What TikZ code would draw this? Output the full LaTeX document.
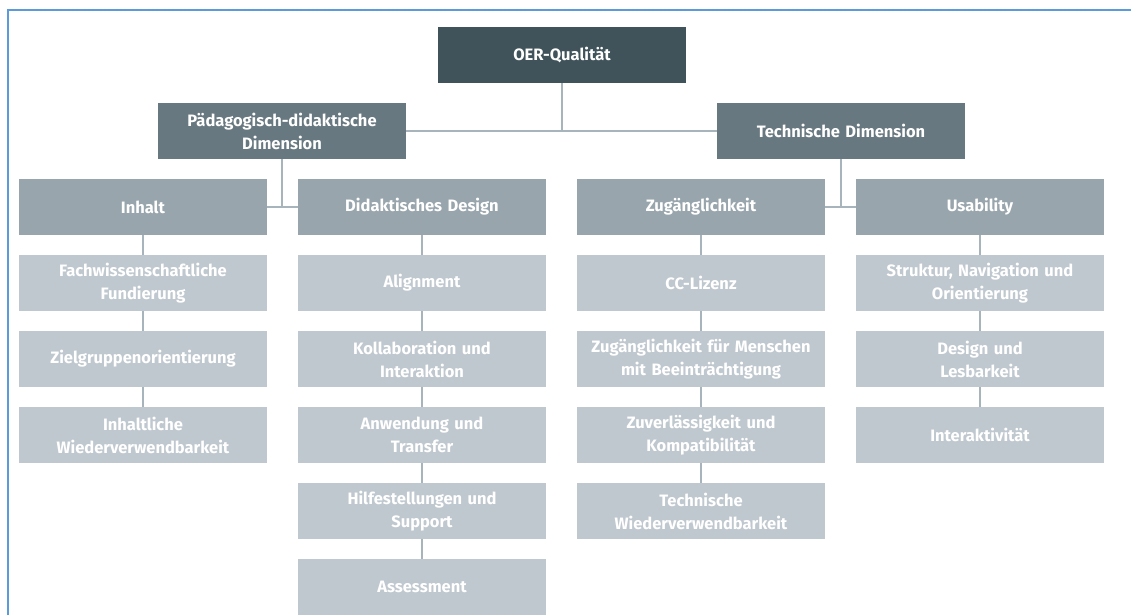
\documentclass[tikz,border=0pt]{standalone}
\usepackage{fontspec}
\setmainfont{Fira Sans}
\usepackage{tikz}
\usetikzlibrary{positioning}
\definecolor{frameblue}{RGB}{91,155,218}
\definecolor{toplevel}{RGB}{64,82,90}
\definecolor{dimlevel}{RGB}{104,120,128}
\definecolor{arealevel}{RGB}{152,165,172}
\definecolor{itemlevel}{RGB}{192,200,207}
\definecolor{linkgray}{RGB}{168,180,188}

\begin{document}
\begin{tikzpicture}[
  x=1pt, y=-1pt,
  node distance=20pt and 31pt,
  box/.style={rectangle, minimum width=248pt, minimum height=56pt, text width=240pt,
    align=center, inner sep=0pt, outer sep=0pt, text=white,
    font=\fontsize{16.5}{23}\selectfont\bfseries},
  toplevelbox/.style={box, fill=toplevel},
  dimbox/.style={box, fill=dimlevel},
  areabox/.style={box, fill=arealevel},
  itembox/.style={box, fill=itemlevel},
  link/.style={draw=linkgray, line width=2pt},
  frameline/.style={draw=frameblue, line width=2pt}
]
\useasboundingbox (0,0) rectangle (1131,614);
\draw[frameline] (8,650) -- (8,10) -- (1160,10);

% top and dimensions
\node[toplevelbox] (oer) at (562,55) {OER-Qualität};
\node[dimbox] (paed) at (282,131) {Pädagogisch-didaktische\\Dimension};
\node[dimbox] (tech) at (841,131) {Technische Dimension};

% areas
\node[areabox] (inhalt) at (143,207) {Inhalt};
\node[areabox, right=of inhalt] (design) {Didaktisches Design};
\node[areabox] (zugang) at (701,207) {Zugänglichkeit};
\node[areabox, right=of zugang] (usab) {Usability};

% Inhalt
\node[itembox, below=of inhalt] (fach) {Fachwissenschaftliche\\Fundierung};
\node[itembox, below=of fach] (ziel) {Zielgruppenorientierung};
\node[itembox, below=of ziel] (inhwv) {Inhaltliche\\Wiederverwendbarkeit};

% Didaktisches Design
\node[itembox, below=of design] (align) {Alignment};
\node[itembox, below=of align] (kolla) {Kollaboration und\\Interaktion};
\node[itembox, below=of kolla] (anw) {Anwendung und\\Transfer};
\node[itembox, below=of anw] (hilfe) {Hilfestellungen und\\Support};
\node[itembox, below=of hilfe] (assess) {Assessment};

% Zugänglichkeit
\node[itembox, below=of zugang] (cc) {CC-Lizenz};
\node[itembox, below=of cc] (barr) {Zugänglichkeit für Menschen\\mit Beeinträchtigung};
\node[itembox, below=of barr] (zuv) {Zuverlässigkeit und\\Kompatibilität};
\node[itembox, below=of zuv] (techwv) {Technische\\Wiederverwendbarkeit};

% Usability
\node[itembox, below=of usab] (struk) {Struktur, Navigation und\\Orientierung};
\node[itembox, below=of struk] (lesb) {Design und\\Lesbarkeit};
\node[itembox, below=of lesb] (inter) {Interaktivität};

% connectors
\draw[link] (oer.south) -- (oer.south |- paed.east);
\draw[link] (paed.east) -- (tech.west);
\draw[link] (paed.south) -- (paed.south |- inhalt.east);
\draw[link] (inhalt.east) -- (design.west);
\draw[link] (tech.south) -- (tech.south |- zugang.east);
\draw[link] (zugang.east) -- (usab.west);

\draw[link] (inhalt) -- (fach);
\draw[link] (fach) -- (ziel);
\draw[link] (ziel) -- (inhwv);
\draw[link] (design) -- (align);
\draw[link] (align) -- (kolla);
\draw[link] (kolla) -- (anw);
\draw[link] (anw) -- (hilfe);
\draw[link] (hilfe) -- (assess);
\draw[link] (zugang) -- (cc);
\draw[link] (cc) -- (barr);
\draw[link] (barr) -- (zuv);
\draw[link] (zuv) -- (techwv);
\draw[link] (usab) -- (struk);
\draw[link] (struk) -- (lesb);
\draw[link] (lesb) -- (inter);
\end{tikzpicture}
\end{document}
